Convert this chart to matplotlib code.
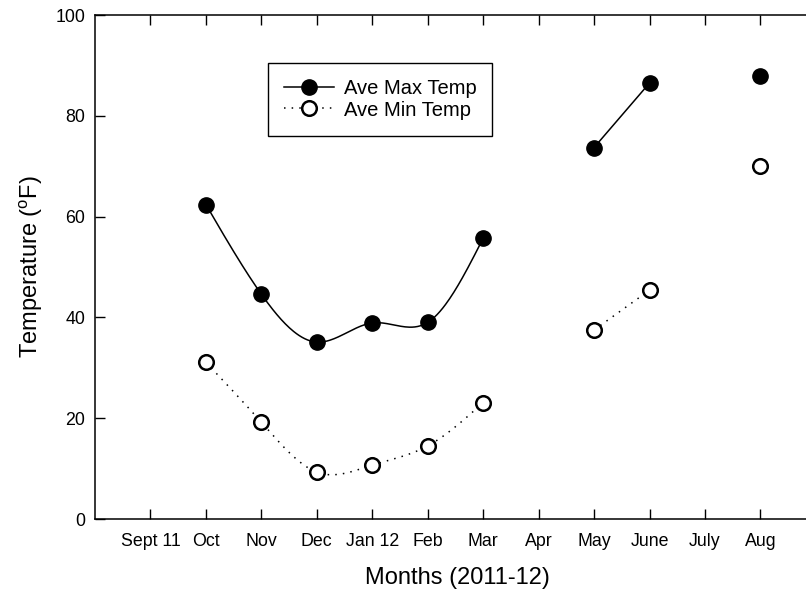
import numpy as np
import matplotlib
matplotlib.use("Agg")
import matplotlib.pyplot as plt

plt.rcParams['font.family'] = ['Liberation Sans', 'DejaVu Sans']
plt.rcParams['mathtext.fontset'] = 'custom'
plt.rcParams['mathtext.rm'] = 'Liberation Sans'

months = ["Sept 11", "Oct", "Nov", "Dec", "Jan 12", "Feb", "Mar", "Apr", "May", "June", "July", "Aug"]

# segment 1: Oct - Mar (spline), segment 2: May - June, segment 3: Aug
seg1_idx = [1, 2, 3, 4, 5, 6]
max_seg1 = [62.4, 44.6, 35.1, 38.9, 39.0, 55.7]
min_seg1 = [31.1, 19.2, 9.3, 10.7, 14.5, 23.1]
seg2_idx = [8, 9]
max_seg2 = [73.7, 86.5]
min_seg2 = [37.5, 45.4]
seg3_idx = [11]
max_seg3 = [87.8]
min_seg3 = [70.0]


def natural_spline(x, y, n=200):
    x = np.asarray(x, float)
    y = np.asarray(y, float)
    k = len(x)
    h = np.diff(x)
    A = np.zeros((k, k))
    b = np.zeros(k)
    A[0, 0] = 1
    A[-1, -1] = 1
    for i in range(1, k - 1):
        A[i, i - 1] = h[i - 1]
        A[i, i] = 2 * (h[i - 1] + h[i])
        A[i, i + 1] = h[i]
        b[i] = 6 * ((y[i + 1] - y[i]) / h[i] - (y[i] - y[i - 1]) / h[i - 1])
    M = np.linalg.solve(A, b)
    xs = np.linspace(x[0], x[-1], n)
    ys = np.empty_like(xs)
    for j, xv in enumerate(xs):
        i = min(np.searchsorted(x, xv, side='right') - 1, k - 2)
        t1 = x[i + 1] - xv
        t0 = xv - x[i]
        ys[j] = (M[i] * t1 ** 3 / (6 * h[i]) + M[i + 1] * t0 ** 3 / (6 * h[i])
                 + (y[i] / h[i] - M[i] * h[i] / 6) * t1
                 + (y[i + 1] / h[i] - M[i + 1] * h[i] / 6) * t0)
    return xs, ys


W, H = 806, 597
fig = plt.figure(figsize=(W / 100, H / 100), dpi=100)
x0, x1 = 95, 95 + 13 * 55.45
y0, y1 = 519, 15
ax = fig.add_axes([x0 / W, (H - y0) / H, (x1 - x0) / W, (y0 - y1) / H])

ms = 11
dot = (0, (1, 4))
# max series
xs, ys = natural_spline(seg1_idx, max_seg1)
ax.plot(xs, ys, color='black', lw=1.1, zorder=2)
ax.plot(seg1_idx, max_seg1, 'o', color='black', ms=ms, zorder=3)
ax.plot(seg2_idx, max_seg2, '-o', color='black', lw=1.1, ms=ms, zorder=3)
ax.plot(seg3_idx, max_seg3, 'o', color='black', ms=ms, zorder=3)

# min series
xs, ys = natural_spline(seg1_idx, min_seg1)
ax.plot(xs, ys, color='black', lw=1.1, ls=dot, zorder=2)
ax.plot(seg1_idx, min_seg1, 'o', mfc='white', mec='black', mew=1.8, ms=ms - 0.5, zorder=3, ls='none')
ax.plot(seg2_idx, min_seg2, 'o', mfc='white', mec='black', mew=1.8, ms=ms - 0.5, lw=1.1,
        ls=dot, color='black', zorder=3)
ax.plot(seg3_idx, min_seg3, 'o', mfc='white', mec='black', mew=1.8, ms=ms - 0.5, zorder=3, ls='none')

# legend proxies
h1, = ax.plot([], [], '-o', color='black', lw=1.1, ms=ms)
h2, = ax.plot([], [], 'o', mfc='white', mec='black', mew=1.8, ms=ms - 0.5, color='black',
              lw=1.1, ls=dot)
leg = ax.legend([h1, h2], ["Ave Max Temp", "Ave Min Temp"], loc='upper left',
                bbox_to_anchor=((268 - x0) / (x1 - x0), (y0 - 63) / (y0 - y1)), fontsize=14.5,
                fancybox=False, edgecolor='black', framealpha=1, handlelength=2.5,
                borderpad=0.8, labelspacing=0.12, handletextpad=0.45, borderaxespad=0)
leg.get_frame().set_linewidth(1.0)

ax.set_xlim(-1, 12)
ax.set_ylim(0, 100)
ax.set_xticks(range(len(months)))
ax.set_xticklabels(months, fontsize=12.8)
ax.set_yticks([0, 20, 40, 60, 80, 100])
ax.tick_params(axis='y', labelsize=12.8, direction='in', length=7, width=1, pad=7)
ax.tick_params(axis='x', direction='in', length=7, width=1, top=True, pad=10)
ax.spines['right'].set_visible(False)
for s in ['left', 'bottom', 'top']:
    ax.spines[s].set_linewidth(1.1)

fig.text(31 / W, 1 - 267 / H, "Temperature ($^{\\rm o}$F)", rotation=90, ha='center', va='center', fontsize=17)
fig.text(457 / W, 1 - 578 / H, "Months (2011-12)", ha='center', va='center', fontsize=17)

fig.savefig("out.png", dpi=100)
